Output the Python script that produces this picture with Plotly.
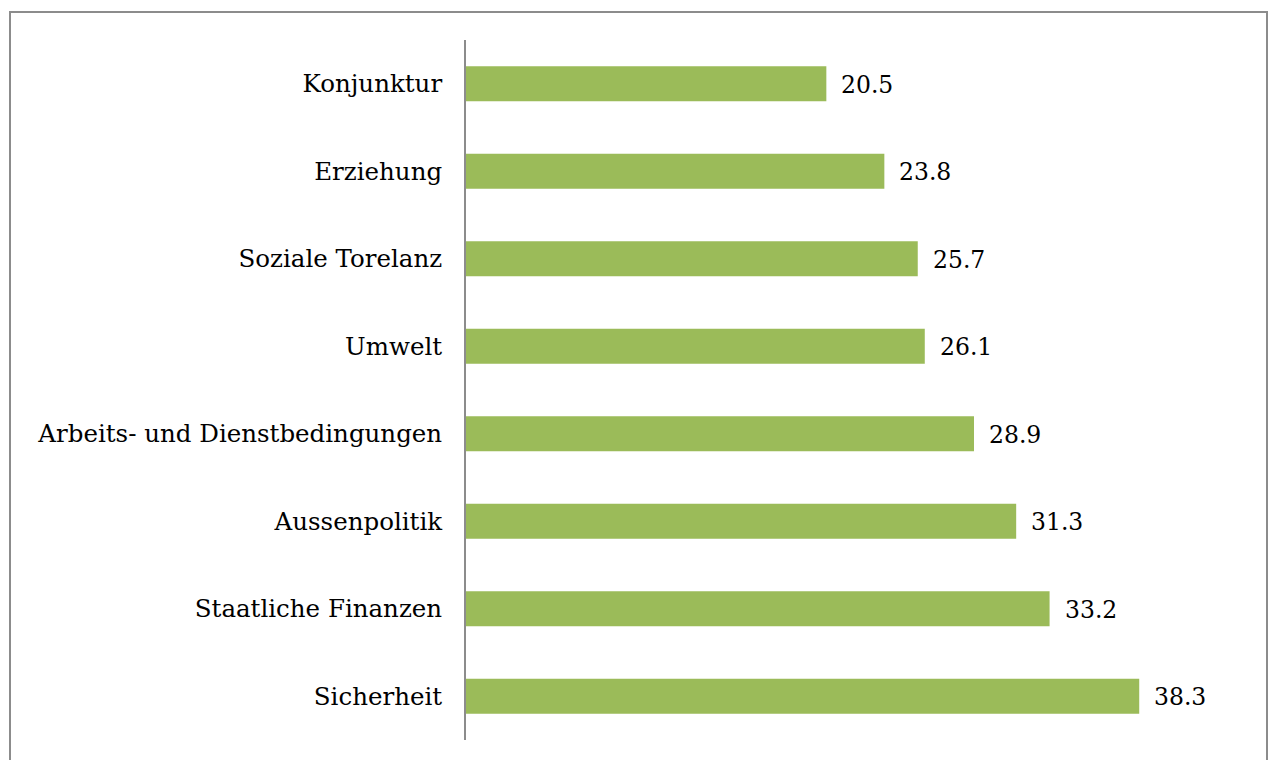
import plotly.graph_objects as go

# Survey topics (top to bottom) and their shares
categories = [
    "Konjunktur",
    "Erziehung",
    "Soziale Torelanz",
    "Umwelt",
    "Arbeits- und Dienstbedingungen",
    "Aussenpolitik",
    "Staatliche Finanzen",
    "Sicherheit",
]
values = [20.5, 23.8, 25.7, 26.1, 28.9, 31.3, 33.2, 38.3]
value_labels = ["20.5", "23.8", "25.7", "26.1", "28.9", "31.3", "33.2", "38.3"]

W, H = 1274, 760
ML, MR, MT, MB = 466, 17, 40, 20
FONT = "DejaVu Serif"
GREEN = "#9BBB59"
GRAY = "#8C8C8C"

fig = go.Figure(
    go.Bar(
        x=values,
        y=categories,
        orientation="h",
        marker=dict(color=GREEN, line=dict(width=0)),
        hoverinfo="skip",
    )
)

# Value labels placed just right of each bar end
for cat, val, lab in zip(categories, values, value_labels):
    fig.add_annotation(
        x=val, y=cat, text=lab, showarrow=False,
        xanchor="left", yanchor="middle", xshift=13, yshift=-1,
        font=dict(family=FONT, size=23.5, color="black"),
    )

# Outer frame around the chart area
pw = W - ML - MR
ph = H - MT - MB
def px_x(p):
    return (p - ML) / pw
def px_y(p):
    return 1 - (p - MT) / ph

fig.add_shape(
    type="rect", xref="paper", yref="paper",
    x0=px_x(10), x1=px_x(1267), y0=px_y(800), y1=px_y(12),
    line=dict(color=GRAY, width=2), fillcolor="rgba(0,0,0,0)", layer="below",
)

fig.update_layout(
    width=W, height=H,
    margin=dict(l=ML, r=MR, t=MT, b=MB, pad=0),
    paper_bgcolor="white", plot_bgcolor="white",
    bargap=0.6,
    showlegend=False,
    font=dict(family=FONT, size=24, color="black"),
    xaxis=dict(range=[0, 45], visible=False, showgrid=False, zeroline=False),
    yaxis=dict(
        autorange="reversed",
        showline=True, linecolor=GRAY, linewidth=2,
        showgrid=False, zeroline=False,
        ticks="", ticklabelstandoff=17,
        tickfont=dict(family=FONT, size=24.5, color="black"),
    ),
)

fig.write_html("out.html")
